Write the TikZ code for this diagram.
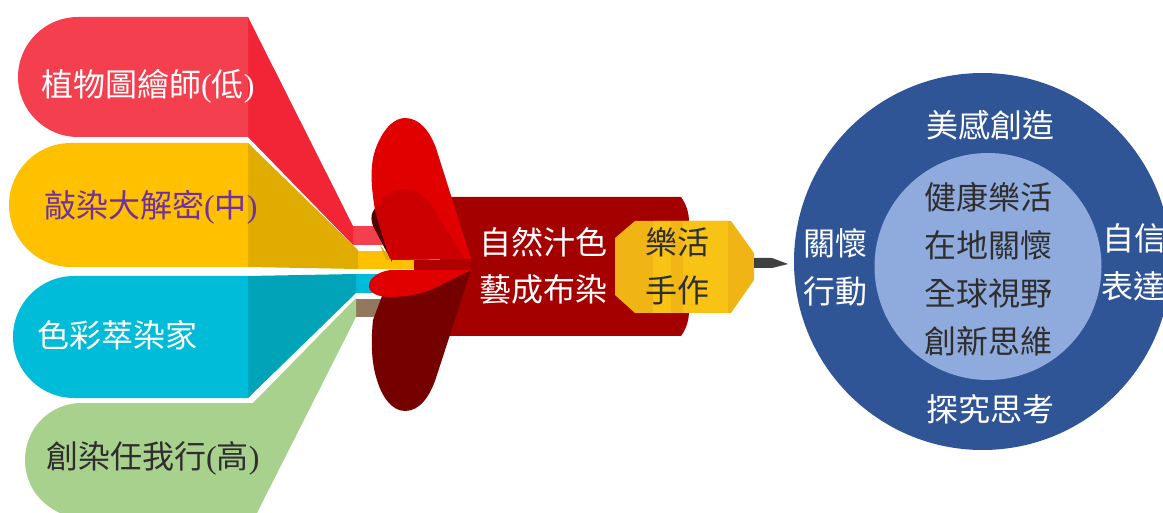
\documentclass[tikz,border=0pt]{standalone}
\usepackage{fontspec}
\setmainfont{Noto Sans CJK TC}
\newfontfamily\serifparen{Liberation Serif}
\newcommand{\lp}{{\serifparen(}}
\newcommand{\rp}{{\serifparen)}}
\tikzset{
  lbl/.style={inner sep=0pt,font=\fontsize{32}{32}\selectfont},
  whitelbl/.style={lbl,text=white},
  darklbl/.style={lbl,text=black!82},
}
\definecolor{cRed}{HTML}{F43F4F}\definecolor{cRedD}{HTML}{F22536}
\definecolor{cYel}{HTML}{FFC000}\definecolor{cYelD}{HTML}{E0AC00}
\definecolor{cCya}{HTML}{00BCD8}\definecolor{cCyaD}{HTML}{00A3B8}
\definecolor{cGre}{HTML}{A9D18E}\definecolor{cBro}{HTML}{937860}
\definecolor{cBar}{HTML}{A50000}\definecolor{cFin}{HTML}{E00000}
\definecolor{cFinM}{HTML}{CC0000}\definecolor{cFinD}{HTML}{750000}
\definecolor{cOctA}{HTML}{F0B515}\definecolor{cOctB}{HTML}{F9C315}
\definecolor{cBlue}{HTML}{2F5597}\definecolor{cLt}{HTML}{8FAADC}
\definecolor{cPur}{HTML}{7030A0}
\begin{document}
\begin{tikzpicture}[x=1pt,y=-1pt]
\useasboundingbox (0,0) rectangle (1163,513);
% red callout
\fill[cRed] (353,226) rectangle (390,245);
\fill[cRedD] (248,17) -- (353,226) -- (353,245) -- (248,137) -- cycle;
\fill[cRed] (248,17) -- (78,17) arc[start angle=270,end angle=90,radius=60] -- (248,137) -- cycle;
% yellow callout
\fill[cYel] (358,251) rectangle (414,269);
\fill[cYelD] (248,143) -- (358,250) -- (358,269) -- (248,267) -- cycle;
\fill[cYel] (248,143) -- (71,143) arc[start angle=270,end angle=90,radius=62] -- (248,267) -- cycle;
% cyan callout
\fill[cCya] (356,274) rectangle (390,293);
\fill[cCyaD] (248,276) -- (356,274) -- (356,293) -- (248,398) -- cycle;
\fill[cCya] (248,276) -- (74,276) arc[start angle=270,end angle=90,radius=61] -- (248,398) -- cycle;
% green callout
\fill[cBro] (356,299) rectangle (390,317);
\begin{scope}
\clip (0,0) rectangle (1163,513);
\fill[cGre] (253,403) -- (356,298) -- (356,317) -- (257,513) -- (60,513)
  .. controls (38,503) and (25,483) .. (25,460)
  .. controls (25,428) and (50,403) .. (82,403) -- cycle;
\end{scope}
% bar
\fill[cBar] (440,197) -- (681,197) .. controls (686,204) and (689,212) .. (689,222)
  -- (689,311) .. controls (689,321) and (686,329) .. (681,336) -- (440,336) -- cycle;
\fill[cFinD!70!black] (373,226) .. controls (369,215) and (373,208) .. (382,203) -- (392,262) -- cycle;
\fill[cFin] (471,259) -- (390,260) -- (375,210) .. controls (370,180) and (370,160) .. (378,143)
  .. controls (385,127) and (395,118) .. (405,118)
  .. controls (420,118) and (430,132) .. (436,148) -- cycle;
\fill[cFinM] (465,259) -- (390,260) -- (375,210) .. controls (380,198) and (392,189) .. (402,189)
  .. controls (416,189) and (425,196) .. (431,205) -- cycle;
\fill[cYelD] (380,245) -- (391,260) -- (386,260) -- cycle;
\fill[cBar!90!red] (414,260) rectangle (471,270);
\fill[cFinD] (471,270) -- (436,378) .. controls (430,396) and (420,411) .. (405,411)
  .. controls (392,411) and (382,397) .. (377,380)
  .. controls (371,362) and (371,340) .. (373,320) -- (382,296) -- (433,288) -- cycle;
\fill[cFin] (471,270) -- (390,270) .. controls (378,272) and (369,278) .. (369,286)
  .. controls (369,293) and (378,297) .. (390,297)
  .. controls (408,297) and (425,293) .. (435,288) -- cycle;
% octagon
\begin{scope}
\clip (635,221) -- (731,221) -- (754,253) -- (754,280) -- (731,313) -- (635,313) -- (615,295) -- (615,238) -- cycle;
\fill[cOctA] (610,215) rectangle (760,320);
\fill[cOctB] (653,215) rectangle (671,320);
\fill[cOctA!90!cOctB] (671,215) rectangle (683,320);
\fill[cOctB] (683,215) rectangle (728,320);
\end{scope}
% tip
\fill[black!75] (754,258) -- (772,258) -- (788,264) -- (772,268) -- (754,268) -- cycle;
% circles
\fill[cBlue] (982.5,261.5) circle[radius=188.5];
\fill[cLt] (988,266.5) circle[radius=113.5];
% labels
\node[whitelbl,anchor=west] (a) at (41,86) {植物圖繪師\lp 低\rp};
\node[lbl,text=cPur,anchor=west] (b) at (44,207) {敲染大解密\lp 中\rp};
\node[whitelbl,anchor=west] (c) at (37,335) {色彩萃染家};
\node[darklbl,anchor=west] (d) at (46,458) {創染任我行\lp 高\rp};
\node[whitelbl] (e1) at (543,242) {自然汁色};
\node[whitelbl] (e2) at (543,290) {藝成布染};
\node[darklbl] (f1) at (677,242) {樂活};
\node[darklbl] (f2) at (677,290) {手作};
\node[whitelbl] (g) at (990,125) {美感創造};
\node[whitelbl] (h) at (990,409) {探究思考};
\node[whitelbl] (i1) at (835,243) {關懷};
\node[whitelbl] (i2) at (835,291) {行動};
\node[whitelbl,anchor=west] (j1) at (1102,238) {自信};
\node[whitelbl,anchor=west] (j2) at (1101,286) {表達};
\node[darklbl] (k1) at (988,197) {健康樂活};
\node[darklbl] (k2) at (988,245) {在地關懷};
\node[darklbl] (k3) at (988,293) {全球視野};
\node[darklbl] (k4) at (988,341) {創新思維};
\end{tikzpicture}
\end{document}
